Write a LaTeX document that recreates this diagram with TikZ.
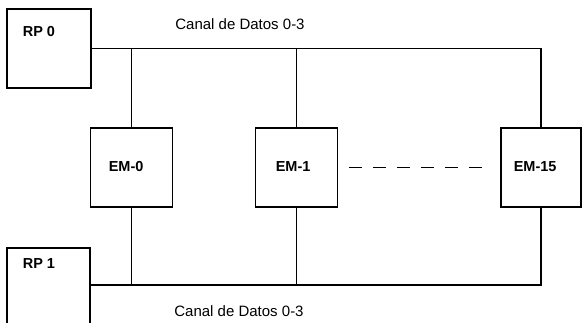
\documentclass[tikz,border=0pt]{standalone}
\usepackage{fontspec}
\setmainfont{Liberation Sans}
\begin{document}
\begin{tikzpicture}[x=1pt,y=-1pt,
  line width=1.6pt,
  boxnode/.style={draw, rectangle, inner sep=0pt, minimum width=82pt, minimum height=79pt},
  boxlabel/.style={anchor=west, inner sep=0pt, font=\fontsize{14.5}{17}\selectfont\bfseries},
  buslabel/.style={inner sep=0pt, font=\fontsize{15}{18}\selectfont},
  dashline/.style={dash pattern=on 13pt off 11pt}]
\useasboundingbox (0,0) rectangle (582,322);
\clip (0,0) rectangle (582,322);
% boxes
\node[boxnode, minimum width=84pt] (rp0) at (49,48.5) {};
\node[boxnode, minimum width=83pt, minimum height=100pt] (rp1) at (48.5,298) {};
\node[boxnode] (em0) at (131.5,167.5) {};
\node[boxnode] (em1) at (296.5,167.5) {};
\node[boxnode, minimum width=80pt] (em15) at (541,167.5) {};
% labels
\node[boxlabel] (lrp0) at (22,32) {RP 0};
\node[boxlabel] (lrp1) at (22,264) {RP 1};
\node[boxlabel] (lem0) at (108,167) {EM-0};
\node[boxlabel] (lem1) at (275,167) {EM-1};
\node[boxlabel] (lem15) at (513,167) {EM-15};
\node[buslabel] (ltop) at (240,24) {Canal de Datos 0-3};
\node[buslabel] (lbot) at (239,311.5) {Canal de Datos 0-3};
% top bus
\draw (rp0.east) -| (em15.north);
\draw (em0.north) -- (em0.north |- rp0.east);
\draw (em1.north) -- (em1.north |- rp0.east);
% bottom bus
\coordinate (b0) at (rp1.east |- 0,285);
\draw (b0) -| (em15.south);
\draw (em0.south) -- (em0.south |- b0);
\draw (em1.south) -- (em1.south |- b0);
% dashed
\draw[dashline, shorten <=11pt, shorten >=16pt] (em1.east) -- (em15.west);
\end{tikzpicture}
\end{document}
